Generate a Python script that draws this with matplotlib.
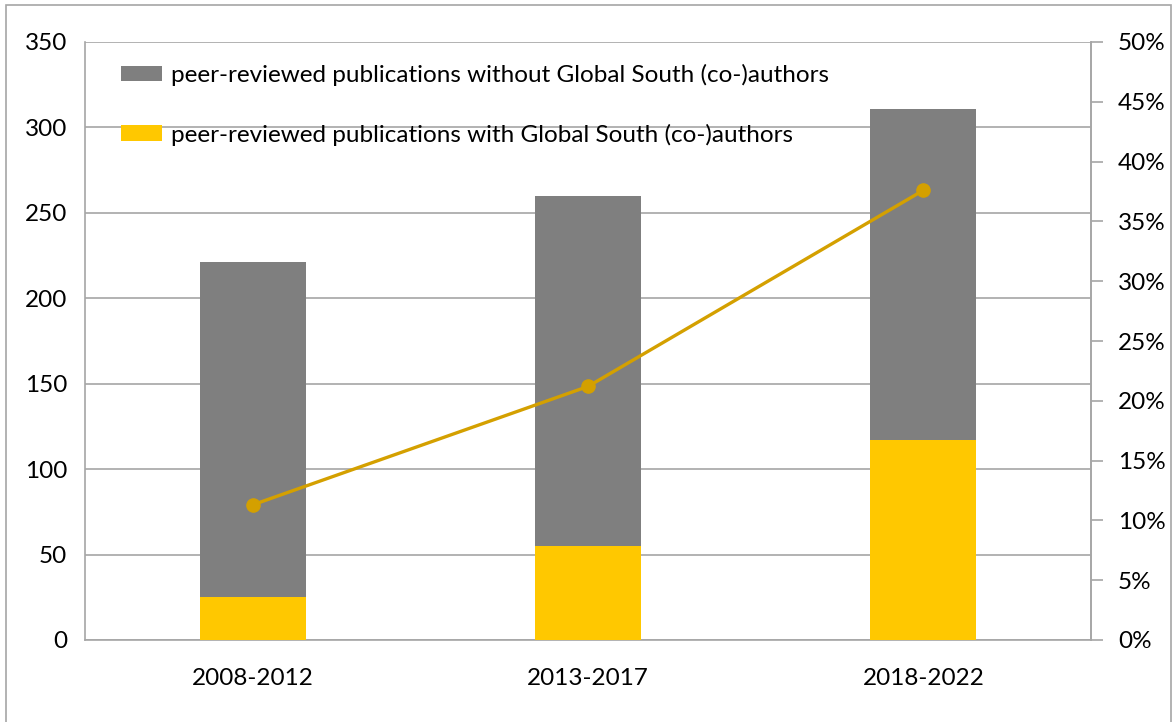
import matplotlib.pyplot as plt
from matplotlib.patches import Rectangle
from matplotlib.ticker import FuncFormatter

# data
periods = ['2008-2012', '2013-2017', '2018-2022']
with_gs = [25, 55, 117]
without_gs = [196, 205, 194]
share_gs = [11.3, 21.2, 37.6]  # percent, right axis

grey = '#7F7F7F'
yellow = '#FFC800'
gold = '#D4A000'

plt.rcParams['font.family'] = ['Lato', 'DejaVu Sans']

fig = plt.figure(figsize=(11.74, 7.22), dpi=100)
ax = fig.add_axes([85 / 1174, 82 / 722, 1006 / 1174, 598 / 722])

x = range(len(periods))
ax.bar(x, with_gs, width=0.316, color=yellow, zorder=3,
       label='peer-reviewed publications with Global South (co-)authors')
ax.bar(x, without_gs, width=0.316, bottom=with_gs, color=grey, zorder=3,
       label='peer-reviewed publications without Global South (co-)authors')

ax.set_xlim(-0.5, 2.5)
ax.set_ylim(0, 350)
ax.set_yticks(range(0, 351, 50))
ax.set_xticks(list(x))
ax.set_xticklabels(periods)
ax.grid(axis='y', color='#A6A6A6', linewidth=1.2, zorder=0)
ax.tick_params(axis='both', length=0, labelsize=17.5, pad=13)
ax.tick_params(axis='x', pad=20)
for s in ['left', 'bottom', 'right']:
    ax.spines[s].set_color('#A6A6A6')
    ax.spines[s].set_linewidth(1.2)
ax.spines['top'].set_visible(False)

ax2 = ax.twinx()
ax2.plot(list(x), share_gs, color=gold, linewidth=2.4, marker='o',
         markersize=9.5, zorder=5)
ax2.set_ylim(0, 50)
ax2.set_yticks(range(0, 51, 5))
ax2.yaxis.set_major_formatter(FuncFormatter(lambda v, p: f'{v:.0f}%'))
ax2.tick_params(axis='y', length=8.5, width=1.2, color='#A6A6A6',
                labelsize=17.5, pad=11)
for s in ['left', 'bottom', 'top']:
    ax2.spines[s].set_visible(False)
ax2.spines['right'].set_color('#A6A6A6')
ax2.spines['right'].set_linewidth(1.2)

# legend: grey series first, as in the original
h, l = ax.get_legend_handles_labels()
ax.legend(h[::-1], l[::-1], loc='upper left', frameon=False, fontsize=17.5,
          handlelength=1.7, handleheight=0.6, handletextpad=0.35,
          labelspacing=1.55, bbox_to_anchor=(0.014, 1.0))

# outer chart border
fig.patches.append(Rectangle((6 / 1174, -0.05), 1165 / 1174, 1.05 - 5 / 722,
                             transform=fig.transFigure, fill=False,
                             edgecolor='#A6A6A6', linewidth=1.2))

plt.savefig('out.png', dpi=100)
